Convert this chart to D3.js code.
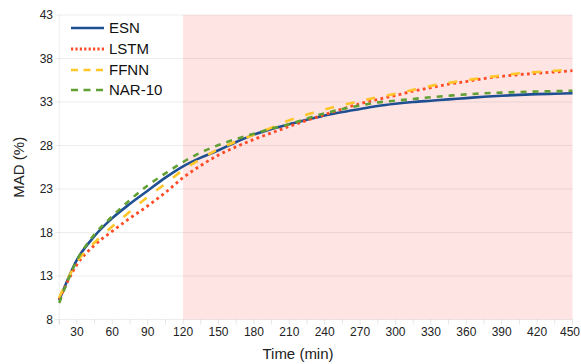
<!DOCTYPE html>
<html>
<head>
<meta charset="utf-8">
<script src="https://cdn.jsdelivr.net/npm/d3@7"></script>
<style>
  html, body { margin: 0; padding: 0; background: #fff; }
  svg { display: block; font-family: "Liberation Sans", Arial, sans-serif; }
</style>
</head>
<body>
<svg id="chart" width="581" height="364"></svg>
<script>
const time = [15,30,45,60,75,90,105,120,135,150,165,180,195,210,225,240,255,270,285,300,315,330,345,360,375,390,405,420,435,450];
const esn  = [10.2,14.85,17.6,19.65,21.3,22.8,24.3,25.6,26.6,27.45,28.4,29.25,29.9,30.45,30.95,31.45,31.85,32.2,32.55,32.8,33.0,33.15,33.3,33.45,33.6,33.72,33.82,33.9,33.95,34.0];
const lstm = [10.3,14.3,16.55,18.15,19.65,21.05,22.6,24.3,25.7,26.9,27.85,28.7,29.45,30.2,30.9,31.55,32.2,32.8,33.3,33.75,34.25,34.65,35.05,35.35,35.7,35.95,36.15,36.3,36.45,36.6];
const ffnn = [10.5,14.6,16.85,18.7,20.4,22.1,23.6,25.2,26.45,27.6,28.45,29.25,30.05,30.9,31.55,32.15,32.65,33.1,33.55,33.95,34.4,34.85,35.2,35.5,35.8,36.05,36.3,36.45,36.6,36.7];
const nar  = [9.9,14.8,17.8,19.85,21.75,23.4,24.8,26.1,27.2,28.05,28.75,29.35,29.95,30.45,31.1,31.7,32.2,32.6,32.95,33.15,33.35,33.55,33.72,33.88,34.0,34.08,34.15,34.2,34.25,34.3];
const xTicks = [30,60,90,120,150,180,210,240,270,300,330,360,390,420,450];
const xMinorTicks = [15,30,45,60,75,90,105,120,135,150,165,180,195,210,225,240,255,270,285,300,315,330,345,360,375,390,405,420,435,450];
const yTicks = [8,13,18,23,28,33,38,43];
const shadeRange = [120, 450];

const seriesNames = ["ESN","LSTM","FFNN","NAR-10"];
const seriesData = [esn, lstm, ffnn, nar];
const styles = [
  {color:"#1f4f93", width:2.6, dash:null, legendDash:null},
  {color:"#ff4a26", width:2.8, dash:"2.8,3.4", legendDash:"2.2,2.2"},
  {color:"#ffc629", width:2.6, dash:"9,12", legendDash:"7,5.5"},
  {color:"#62a033", width:2.6, dash:"6,6", legendDash:"7,5.5"}
];

const svg = d3.select("#chart");
const L = 59.2, R = 572.5, T = 15, B = 319.5;
const x = d3.scaleLinear().domain([15, 450]).range([L, R]);
const y = d3.scaleLinear().domain([8, 43]).range([B, T]);

// shaded region
svg.append("rect")
  .attr("x", x(shadeRange[0])).attr("y", T)
  .attr("width", x(shadeRange[1]) - x(shadeRange[0]))
  .attr("height", B - T)
  .attr("fill", "#ffe4e4");

// horizontal grid lines
svg.append("g").selectAll("line").data(yTicks).join("line")
  .attr("x1", L - 4).attr("x2", R)
  .attr("y1", d => y(d)).attr("y2", d => y(d))
  .attr("stroke", "rgba(0,0,0,0.07)").attr("stroke-width", 1);

// left axis line
svg.append("line")
  .attr("x1", L).attr("x2", L).attr("y1", T).attr("y2", B + 5)
  .attr("stroke", "rgba(0,0,0,0.07)").attr("stroke-width", 1);

// bottom minor ticks
svg.append("g").selectAll("line").data(xMinorTicks).join("line")
  .attr("x1", d => x(d)).attr("x2", d => x(d))
  .attr("y1", B).attr("y2", B + 5)
  .attr("stroke", "rgba(0,0,0,0.1)").attr("stroke-width", 1);

// y tick labels
svg.append("g").selectAll("text").data(yTicks).join("text")
  .attr("x", 53).attr("y", d => y(d)).attr("dy", "0.35em")
  .attr("text-anchor", "end").attr("font-size", 12).attr("fill", "#222")
  .text(d => d);

// x tick labels (keep the last one inside the page)
svg.append("g").selectAll("text").data(xTicks).join("text")
  .attr("x", d => Math.min(x(d), 570)).attr("y", 336)
  .attr("text-anchor", "middle").attr("font-size", 12).attr("fill", "#222")
  .text(d => d);

// axis titles
svg.append("text").attr("x", 298).attr("y", 359)
  .attr("text-anchor", "middle").attr("font-size", 15).attr("fill", "#222")
  .text("Time (min)");
svg.append("text")
  .attr("transform", `translate(24,${(T + B) / 2}) rotate(-90)`)
  .attr("text-anchor", "middle").attr("font-size", 15).attr("fill", "#222")
  .text("MAD (%)");

// lines
const line = d3.line().x((d, i) => x(time[i])).y(d => y(d)).curve(d3.curveMonotoneX);
seriesData.forEach((s, k) => {
  const st = styles[k];
  const p = svg.append("path").datum(s)
    .attr("d", line)
    .attr("fill", "none")
    .attr("stroke", st.color)
    .attr("stroke-width", st.width)
    .attr("stroke-linejoin", "round");
  if (st.dash) p.attr("stroke-dasharray", st.dash);
});

// legend
const legendY = [28, 49, 70, 90];
seriesNames.forEach((n, k) => {
  const st = styles[k];
  const ln = svg.append("line")
    .attr("x1", 71).attr("x2", 104)
    .attr("y1", legendY[k]).attr("y2", legendY[k])
    .attr("stroke", st.color).attr("stroke-width", st.width);
  if (st.legendDash) ln.attr("stroke-dasharray", st.legendDash);
  svg.append("text").attr("x", 109).attr("y", legendY[k]).attr("dy", "0.36em")
    .attr("font-size", 15).attr("fill", "#111").text(n);
});
</script>
</body>
</html>
